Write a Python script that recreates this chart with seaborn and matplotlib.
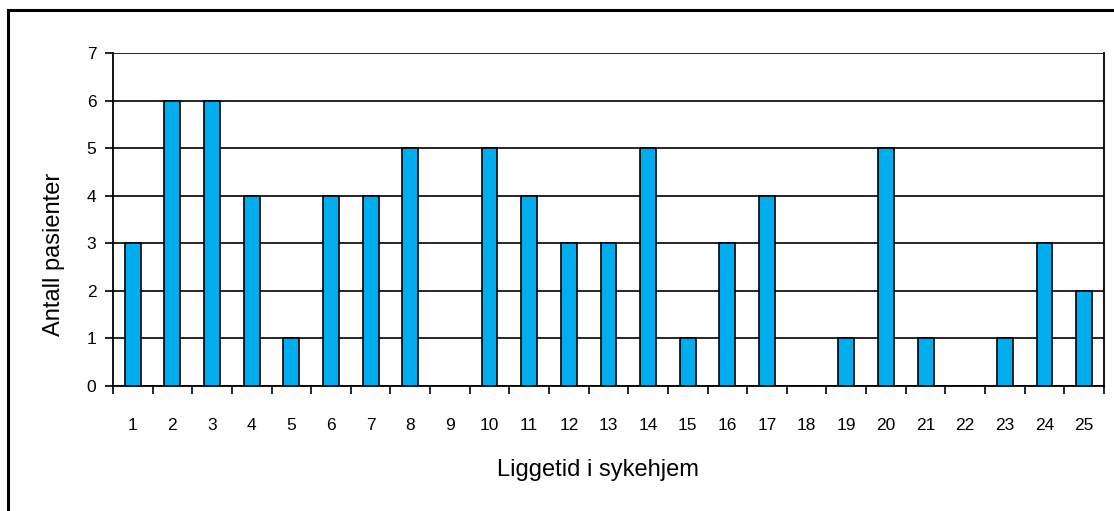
import matplotlib
matplotlib.use("Agg")
import matplotlib.pyplot as plt
import seaborn as sns
import numpy as np
import pandas as pd
from matplotlib.patches import Rectangle

days = [str(i) for i in range(1, 26)]
patients = [3, 6, 6, 4, 1, 4, 4, 5, 0, 5, 4, 3, 3, 5, 1, 3, 4, 0, 1, 5, 1, 0, 1, 3, 2]
y_ticks = [0, 1, 2, 3, 4, 5, 6, 7]

sns.set_style("white")
plt.rcParams["font.family"] = ["Liberation Sans", "DejaVu Sans"]
plt.rcParams["text.color"] = "black"
plt.rcParams["axes.labelcolor"] = "black"
plt.rcParams["xtick.color"] = "black"
plt.rcParams["ytick.color"] = "black"

df = pd.DataFrame({"Liggetid": days, "Antall": patients})

fig = plt.figure(figsize=(11.14, 5.11), dpi=100)
ax = fig.add_axes([0.1014, 0.2446, 0.8896, 0.6517])

sns.barplot(data=df, x="Liggetid", y="Antall", order=days, color="#00AEEF",
            saturation=1, width=0.4, edgecolor="black", linewidth=1.2, ax=ax, zorder=3)

ax.set_xlim(-0.5, len(days) - 0.5)
ax.set_ylim(0, 7)
ax.set_yticks(y_ticks)
ax.yaxis.grid(True, color="black", linewidth=1.2, zorder=0)
ax.set_axisbelow(True)

# Category labels centred, tick marks on the category boundaries
ax.set_xticks(range(len(days)))
ax.set_xticklabels(days, fontsize=12.5)
ax.set_xticks(np.arange(-0.5, len(days)), minor=True)
ax.tick_params(axis="x", which="major", length=0, pad=23)
ax.tick_params(axis="x", which="minor", length=6, width=1.2, color="black", direction="out", bottom=True)
ax.tick_params(axis="y", length=6, width=1.2, color="black", direction="out", left=True, labelsize=12.5, pad=6)

for side in ["left", "bottom", "right"]:
    ax.spines[side].set_visible(True)
    ax.spines[side].set_color("black")
    ax.spines[side].set_linewidth(1.3)
ax.spines["top"].set_visible(False)

ax.set_xlabel("")
ax.set_ylabel("")
fig.text(0.537, 0.0802, "Liggetid i sykehjem", fontsize=17, ha="center", va="center")
fig.text(0.0485, 0.503, "Antall pasienter", fontsize=17, ha="center", va="center", rotation=90)

# Frame around the whole chart (its right and bottom edges run past the canvas)
fig.patches.append(Rectangle((7.5 / 1114, -20 / 511), 1130 / 1114, 521 / 511,
                             transform=fig.transFigure, fill=False,
                             edgecolor="black", linewidth=2.2))

fig.savefig("out.png", dpi=100)
